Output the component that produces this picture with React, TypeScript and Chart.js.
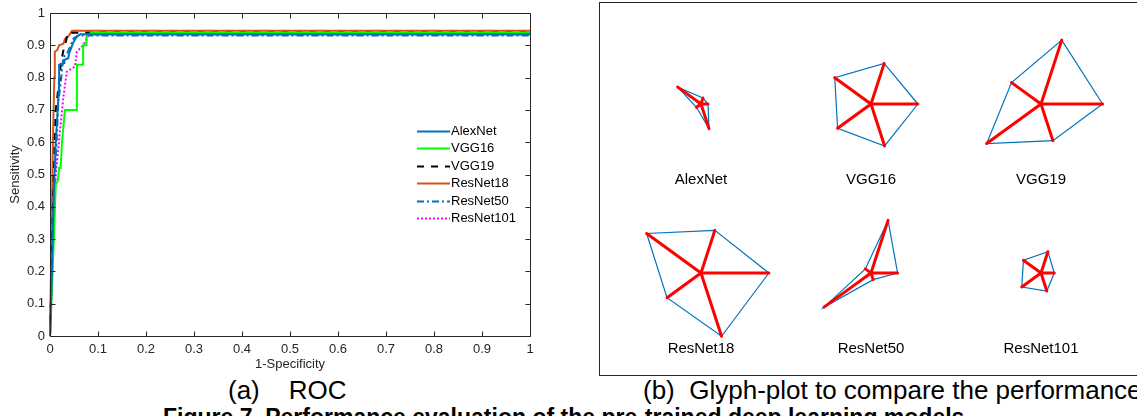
import React, { useEffect, useRef } from "react";
import { Chart, registerables } from "chart.js";

Chart.register(...registerables);

// ---------------- DATA ----------------
const seriesNames = ["AlexNet", "VGG16", "VGG19", "ResNet18", "ResNet50", "ResNet101"];

// ROC curves: [1-Specificity, Sensitivity]
const alexNetRoc: [number, number][] = [
  [0, 0], [0.004, 0.2], [0.008, 0.45], [0.012, 0.6], [0.016, 0.7], [0.019, 0.78], [0.019, 0.84],
  [0.03, 0.845], [0.03, 0.855], [0.038, 0.86], [0.04, 0.875], [0.045, 0.895], [0.049, 0.91],
  [0.055, 0.925], [0.063, 0.934], [1, 0.934],
];
const vgg16Roc: [number, number][] = [
  [0, 0], [0.004, 0.15], [0.008, 0.3], [0.012, 0.47], [0.016, 0.48], [0.019, 0.52], [0.022, 0.52],
  [0.025, 0.6], [0.031, 0.7], [0.056, 0.7], [0.056, 0.84], [0.069, 0.84], [0.069, 0.9], [0.076, 0.9],
  [0.076, 0.93], [0.085, 0.938], [1, 0.938],
];
const vgg19Roc: [number, number][] = [
  [0, 0], [0.004, 0.25], [0.008, 0.5], [0.012, 0.7], [0.016, 0.75], [0.02, 0.8], [0.022, 0.834],
  [0.026, 0.87], [0.03, 0.9], [0.033, 0.91], [0.035, 0.925], [0.037, 0.939], [1, 0.939],
];
const resNet18Roc: [number, number][] = [
  [0, 0], [0.003, 0.3], [0.006, 0.6], [0.009, 0.8], [0.01, 0.88], [0.015, 0.885], [0.019, 0.9],
  [0.028, 0.905], [0.031, 0.92], [0.038, 0.927], [0.046, 0.945], [1, 0.945],
];
const resNet50Roc: [number, number][] = [
  [0, 0], [0.004, 0.2], [0.008, 0.4], [0.012, 0.55], [0.015, 0.64], [0.017, 0.72], [0.022, 0.78],
  [0.028, 0.865], [0.034, 0.87], [0.042, 0.896], [0.049, 0.921], [0.059, 0.93], [1, 0.93],
];
const resNet101Roc: [number, number][] = [
  [0, 0], [0.004, 0.15], [0.008, 0.35], [0.012, 0.5], [0.016, 0.56], [0.021, 0.638], [0.028, 0.741],
  [0.035, 0.818], [0.052, 0.834], [0.056, 0.88], [0.069, 0.9], [0.08, 0.93], [0.09, 0.933], [1, 0.933],
];

const xTickValues = [0, 0.1, 0.2, 0.3, 0.4, 0.5, 0.6, 0.7, 0.8, 0.9, 1];
const xTickLabels = ["0", "0.1", "0.2", "0.3", "0.4", "0.5", "0.6", "0.7", "0.8", "0.9", "1"];
const yTickValues = [0, 0.1, 0.2, 0.3, 0.4, 0.5, 0.6, 0.7, 0.8, 0.9, 1];
const yTickLabels = ["0", "0.1", "0.2", "0.3", "0.4", "0.5", "0.6", "0.7", "0.8", "0.9", "1"];

// Glyph (star) plot: 5 normalised metrics per model
const alexNetGlyph = [0.1, 0.09, 0.41, 0.08, 0.37];
const vgg16Glyph = [0.67, 0.61, 0.64, 0.59, 0.63];
const vgg19Glyph = [0.88, 0.96, 0.52, 0.96, 0.55];
const resNet18Glyph = [0.97, 0.64, 0.96, 0.6, 0.95];
const resNet50Glyph = [0.38, 0.79, 0.1, 0.83, 0.1];
const resNet101Glyph = [0.19, 0.32, 0.31, 0.34, 0.27];

// ---------------- STYLE ----------------
const FONT = "'Liberation Sans', Arial, Helvetica, sans-serif";
const AXIS_COLOR = "#262626";

const rocPoints = [alexNetRoc, vgg16Roc, vgg19Roc, resNet18Roc, resNet50Roc, resNet101Roc];
const rocColors = ["#0072BD", "#00FF00", "#000000", "#D95319", "#0072BD", "#FF00FF"];
const rocDashes: number[][] = [[], [], [7, 7], [], [7, 3, 2, 3], [2, 2]];

const glyphValues = [alexNetGlyph, vgg16Glyph, vgg19Glyph, resNet18Glyph, resNet50Glyph, resNet101Glyph];

// glyph layout (panel coordinates = page pixels)
const GLYPH_X0 = 701;
const GLYPH_DX = 170;
const GLYPH_Y0 = 104;
const GLYPH_DY = 169;
const GLYPH_R = 70;
const GLYPH_LABEL_DY = 76;

// ---------------- ROC CHART ----------------
const rocPlugin = {
  id: "rocFrame",
  afterDraw(chart: any) {
    const { ctx, chartArea: a, scales } = chart;
    const px = (v: number) => Math.round(v) + 0.5;
    ctx.save();
    ctx.strokeStyle = AXIS_COLOR;
    ctx.lineWidth = 1;
    ctx.setLineDash([]);
    const L = px(a.left), R = px(a.right), T = px(a.top), B = px(a.bottom);
    ctx.beginPath();
    ctx.rect(L, T, R - L, B - T);
    ctx.stroke();
    const tl = 5;
    ctx.beginPath();
    xTickValues.forEach((v) => {
      const x = px(scales.x.getPixelForValue(v));
      ctx.moveTo(x, B); ctx.lineTo(x, B - tl);
      ctx.moveTo(x, T); ctx.lineTo(x, T + tl);
    });
    yTickValues.forEach((v) => {
      const y = px(scales.y.getPixelForValue(v));
      ctx.moveTo(L, y); ctx.lineTo(L + tl, y);
      ctx.moveTo(R, y); ctx.lineTo(R - tl, y);
    });
    ctx.stroke();

    // legend
    const lx0 = 417, lx1 = 450, tx = 451, ly0 = 130.5, ldy = 17.5;
    chart.data.datasets.forEach((ds: any, i: number) => {
      const y = Math.round(ly0 + i * ldy) + 0.5;
      ctx.beginPath();
      ctx.strokeStyle = ds.borderColor;
      ctx.lineWidth = ds.borderWidth;
      ctx.setLineDash(ds.borderDash || []);
      ctx.moveTo(lx0, y);
      ctx.lineTo(lx1, y);
      ctx.stroke();
      ctx.setLineDash([]);
      ctx.fillStyle = "#000";
      ctx.font = `13px ${FONT}`;
      ctx.textAlign = "left";
      ctx.textBaseline = "middle";
      ctx.fillText(ds.label, tx, y);
    });
    ctx.restore();
  },
};

function RocChart() {
  const ref = useRef<HTMLCanvasElement>(null);
  useEffect(() => {
    const chart = new Chart(ref.current as HTMLCanvasElement, {
      type: "scatter",
      data: {
        datasets: seriesNames.map((name, i) => ({
          label: name,
          data: rocPoints[i].map(([x, y]) => ({ x, y })),
          showLine: true,
          borderColor: rocColors[i],
          backgroundColor: rocColors[i],
          borderWidth: 2,
          borderDash: rocDashes[i],
          pointRadius: 0,
          tension: 0,
          clip: false,
          fill: false,
        })),
      },
      options: {
        animation: false,
        responsive: false,
        events: [],
        layout: { padding: { top: 13, right: 30, left: 0, bottom: 0 } },
        plugins: { legend: { display: false }, tooltip: { enabled: false } },
        scales: {
          x: {
            type: "linear",
            min: 0,
            max: 1,
            afterBuildTicks: (s: any) => { s.ticks = xTickValues.map((v) => ({ value: v })); },
            afterFit: (s: any) => { s.height = 39; },
            grid: { display: false, drawTicks: false },
            border: { display: false },
            ticks: {
              color: AXIS_COLOR,
              font: { family: FONT, size: 13 },
              padding: 6,
              maxRotation: 0,
              autoSkip: false,
              callback: (_v: any, i: number) => xTickLabels[i],
            },
            title: {
              display: true,
              text: "1-Specificity",
              color: AXIS_COLOR,
              font: { family: FONT, size: 13 },
              padding: { top: 0, bottom: 3 },
            },
          },
          y: {
            type: "linear",
            min: 0,
            max: 1,
            afterBuildTicks: (s: any) => { s.ticks = yTickValues.map((v) => ({ value: v })); },
            afterFit: (s: any) => { s.width = 50; },
            grid: { display: false, drawTicks: false },
            border: { display: false },
            ticks: {
              color: AXIS_COLOR,
              font: { family: FONT, size: 13 },
              padding: 5,
              autoSkip: false,
              callback: (_v: any, i: number) => yTickLabels[i],
            },
            title: {
              display: true,
              text: "Sensitivity",
              color: AXIS_COLOR,
              font: { family: FONT, size: 13 },
              padding: { top: 8, bottom: 0 },
            },
          },
        },
      },
      plugins: [rocPlugin],
    } as any);
    return () => chart.destroy();
  }, []);
  return (
    <canvas
      ref={ref}
      width={560}
      height={375}
      style={{ position: "absolute", left: 0, top: 0, width: 560, height: 375 }}
    />
  );
}

// ---------------- GLYPH CHART ----------------
const glyphCenter = (i: number) => ({
  x: GLYPH_X0 + (i % 3) * GLYPH_DX,
  y: GLYPH_Y0 + Math.floor(i / 3) * GLYPH_DY,
});

const glyphLabelPlugin = {
  id: "glyphLabels",
  afterDatasetsDraw(chart: any) {
    const { ctx, scales } = chart;
    ctx.save();
    ctx.fillStyle = "#000";
    ctx.font = `15px ${FONT}`;
    ctx.textAlign = "center";
    ctx.textBaseline = "middle";
    seriesNames.forEach((name, i) => {
      const c = glyphCenter(i);
      ctx.fillText(name, scales.x.getPixelForValue(c.x), scales.y.getPixelForValue(c.y + GLYPH_LABEL_DY));
    });
    ctx.restore();
  },
};

const PANEL_LEFT = 600;
const PANEL_TOP = 3;
const PANEL_W = 537;
const PANEL_H = 371;

function GlyphChart() {
  const ref = useRef<HTMLCanvasElement>(null);
  useEffect(() => {
    const datasets: any[] = [];
    glyphValues.forEach((vals, i) => {
      const c = glyphCenter(i);
      const verts = vals.map((v, k) => {
        const a = (k * 2 * Math.PI) / vals.length;
        return { x: c.x + v * GLYPH_R * Math.cos(a), y: c.y - v * GLYPH_R * Math.sin(a) };
      });
      datasets.push({
        label: seriesNames[i] + " outline",
        data: [...verts, verts[0]],
        showLine: true,
        borderColor: "#0072BD",
        borderWidth: 1.2,
        pointRadius: 0,
        tension: 0,
        order: 2,
        clip: false,
      });
      const spokes: { x: number; y: number }[] = [];
      verts.forEach((p) => {
        spokes.push({ x: c.x, y: c.y }, p, { x: c.x, y: c.y });
      });
      datasets.push({
        label: seriesNames[i] + " spokes",
        data: spokes,
        showLine: true,
        borderColor: "#FF0000",
        borderWidth: 3,
        borderJoinStyle: "round",
        borderCapStyle: "butt",
        pointRadius: 0,
        tension: 0,
        order: 1,
        clip: false,
      });
    });
    const chart = new Chart(ref.current as HTMLCanvasElement, {
      type: "scatter",
      data: { datasets },
      options: {
        animation: false,
        responsive: false,
        events: [],
        layout: { padding: 0 },
        plugins: { legend: { display: false }, tooltip: { enabled: false } },
        scales: {
          x: { type: "linear", min: PANEL_LEFT, max: PANEL_LEFT + PANEL_W, display: false },
          y: { type: "linear", min: PANEL_TOP, max: PANEL_TOP + PANEL_H, reverse: true, display: false },
        },
      },
      plugins: [glyphLabelPlugin],
    } as any);
    return () => chart.destroy();
  }, []);
  return (
    <canvas
      ref={ref}
      width={PANEL_W}
      height={PANEL_H}
      style={{ position: "absolute", left: PANEL_LEFT, top: PANEL_TOP, width: PANEL_W, height: PANEL_H }}
    />
  );
}

// ---------------- APP ----------------
const captionStyle: React.CSSProperties = {
  position: "absolute",
  fontFamily: FONT,
  fontSize: 26,
  lineHeight: "26px",
  whiteSpace: "pre",
  color: "#000",
};

export default function App() {
  return (
    <div
      style={{
        position: "fixed",
        left: 0,
        top: 0,
        width: 1137,
        height: 416,
        overflow: "hidden",
        background: "#fff",
      }}
    >
      <RocChart />
      <div
        style={{
          position: "absolute",
          left: 599,
          top: 2,
          width: 600,
          height: 374,
          boxSizing: "border-box",
          border: "1px solid #262626",
        }}
      />
      <GlyphChart />
      <div style={{ ...captionStyle, left: 228, top: 377 }}>{"(a)    ROC"}</div>
      <div style={{ ...captionStyle, left: 643, top: 377 }}>{"(b)  Glyph-plot to compare the performance"}</div>
      <div style={{ ...captionStyle, left: 163, top: 406, fontSize: 23, lineHeight: "23px", fontWeight: "bold" }}>
        {"Figure 7. Performance evaluation of the pre-trained deep learning models"}
      </div>
    </div>
  );
}
